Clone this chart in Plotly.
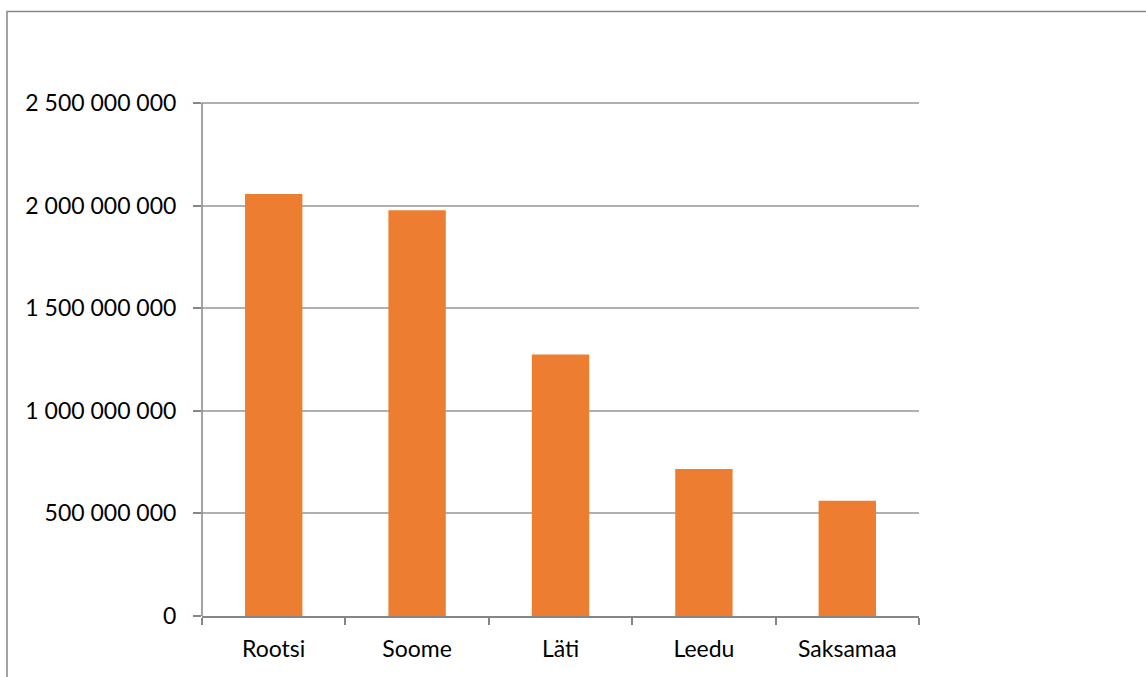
import plotly.graph_objects as go

categories = ["Rootsi", "Soome", "Läti", "Leedu", "Saksamaa"]
values = [2057000000, 1978000000, 1275000000, 717000000, 562000000]
y_ticks = [0, 500000000, 1000000000, 1500000000, 2000000000, 2500000000]

W, H = 1146, 677
L, R, B = 202, 919, 616
TOP_GRID = 102.7
Y_MAX = 2520000000
T = B - (B - TOP_GRID) * Y_MAX / 2500000000

fig = go.Figure(go.Bar(x=categories, y=values, marker=dict(color="#ED7D31", line=dict(width=0))))

font = dict(family="Lato, Open Sans, sans-serif", size=23, color="#000000")

fig.update_layout(
    width=W, height=H,
    margin=dict(l=L, r=W - R, t=T, b=H - B, pad=0),
    paper_bgcolor="white", plot_bgcolor="white",
    bargap=0.6, showlegend=False,
    separators=", ",
    font=font,
    xaxis=dict(
        showline=True, linecolor="#868686", linewidth=1.5,
        ticks="outside", tickson="boundaries", ticklen=7, tickcolor="#868686", tickwidth=1.5,
        showgrid=False, tickfont=font, ticklabelstandoff=12,
    ),
    yaxis=dict(
        range=[0, Y_MAX], tickvals=y_ticks, tickformat=",d",
        showline=False,
        ticks="outside", ticklen=8, tickcolor="#868686", tickwidth=1.5,
        showgrid=True, gridcolor="#B0B0B0", gridwidth=1.5, zeroline=False,
        tickfont=font, ticklabelstandoff=12,
    ),
    shapes=[
        dict(
            type="rect", xref="paper", yref="paper",
            x0=(7 - L) / (R - L), x1=2.0,
            y0=-1.0, y1=(B - 11) / (B - T),
            line=dict(color="#878787", width=1.5), fillcolor="rgba(0,0,0,0)", layer="below",
        ),
        dict(
            type="line", xref="paper", yref="y",
            x0=0, x1=0, y0=0, y1=y_ticks[-1],
            line=dict(color="#868686", width=1.5), layer="above",
        ),
    ],
)

fig.write_html("out.html")
